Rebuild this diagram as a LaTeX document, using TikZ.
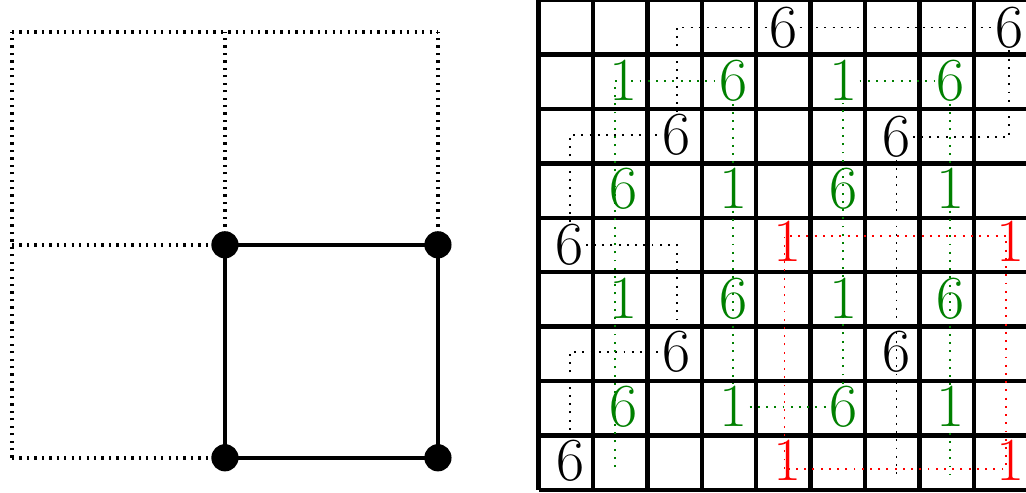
\documentclass[tikz,border=0pt]{standalone}
\usepackage{xcolor}
\definecolor{puzgreen}{HTML}{008000}
\definecolor{puzred}{HTML}{FF0000}
\tikzset{
  num/.style={inner sep=1pt, font=\fontsize{32}{36}\selectfont},
  gridline/.style={line width=2.3pt},
  thindots/.style={line width=1pt, dash pattern=on 1pt off 3.3pt},
  bigdots/.style={line width=2.3pt, dash pattern=on 1.2pt off 2.7pt},
  corner/.style={circle, fill, inner sep=0pt, minimum size=0.5cm}
}

\begin{document}
\begin{tikzpicture}
    \useasboundingbox (-9.90,-0.04) rectangle (8.96,9.005);

    \begin{scope}[shift={(-9.68,0.59)}, scale=3.915]
      \foreach \k in {0,1,2} {
        \draw[bigdots] (\k,0) -- (\k,2);
        \draw[bigdots] (0,\k) -- (2,\k);
      }
      \node[corner] (c10) at (1,0) {};
      \node[corner] (c20) at (2,0) {};
      \node[corner] (c21) at (2,1) {};
      \node[corner] (c11) at (1,1) {};
      \draw[line width=2.3pt] (c10.center) -- (c20.center) -- (c21.center) -- (c11.center) -- cycle;
    \end{scope}

    \draw[gridline] (0,0) grid (9,9);

    \node[num] (b00) at (0.58,0.53) {6};
    \node[num] (b22) at (2.54,2.54) {6};
    \node[num] (b04) at (0.57,4.50) {6};
    \node[num] (b26) at (2.54,6.52) {6};
    \node[num] (b48) at (4.50,8.50) {6};
    \node[num] (b88) at (8.65,8.50) {6};
    \node[num] (b66) at (6.58,6.49) {6};
    \node[num] (b62) at (6.58,2.54) {6};

    \node[num, text=puzgreen] (g17) at (1.56,7.52) {1};
    \node[num, text=puzgreen] (g37) at (3.58,7.52) {6};
    \node[num, text=puzgreen] (g57) at (5.60,7.52) {1};
    \node[num, text=puzgreen] (g77) at (7.57,7.52) {6};
    \node[num, text=puzgreen] (g15) at (1.56,5.54) {6};
    \node[num, text=puzgreen] (g35) at (3.58,5.54) {1};
    \node[num, text=puzgreen] (g55) at (5.60,5.54) {6};
    \node[num, text=puzgreen] (g75) at (7.57,5.54) {1};
    \node[num, text=puzgreen] (g13) at (1.56,3.52) {1};
    \node[num, text=puzgreen] (g33) at (3.58,3.52) {6};
    \node[num, text=puzgreen] (g53) at (5.60,3.52) {1};
    \node[num, text=puzgreen] (g73) at (7.57,3.52) {6};
    \node[num, text=puzgreen] (g11) at (1.56,1.53) {6};
    \node[num, text=puzgreen] (g31) at (3.58,1.53) {1};
    \node[num, text=puzgreen] (g51) at (5.60,1.53) {6};
    \node[num, text=puzgreen] (g71) at (7.57,1.53) {1};

    \node[num, text=puzred] (r44) at (4.58,4.57) {1};
    \node[num, text=puzred] (r84) at (8.67,4.57) {1};
    \node[num, text=puzred] (r40) at (4.58,0.55) {1};
    \node[num, text=puzred] (r80) at (8.67,0.55) {1};

    \coordinate (bend) at (6.58,0.27);
    \coordinate (gstart) at (1.40,0.42);
    \coordinate (gend) at (7.57,0.27);
    \coordinate (rsw) at (4.52,0.39);
    \coordinate (rne) at (8.60,4.67);

    \draw[thindots] (b00) |- (b22) |- (b04) |- (b26) |- (b48) -- (b88) |- (b66) -- (bend);
    \draw[thindots, puzgreen] (gstart) |- (g37) -- (g31) -- (g51) -- (g57) -- (g77) -- (gend);
    \draw[thindots, puzred] (rsw) rectangle (rne);
  \end{tikzpicture}
\end{document}
